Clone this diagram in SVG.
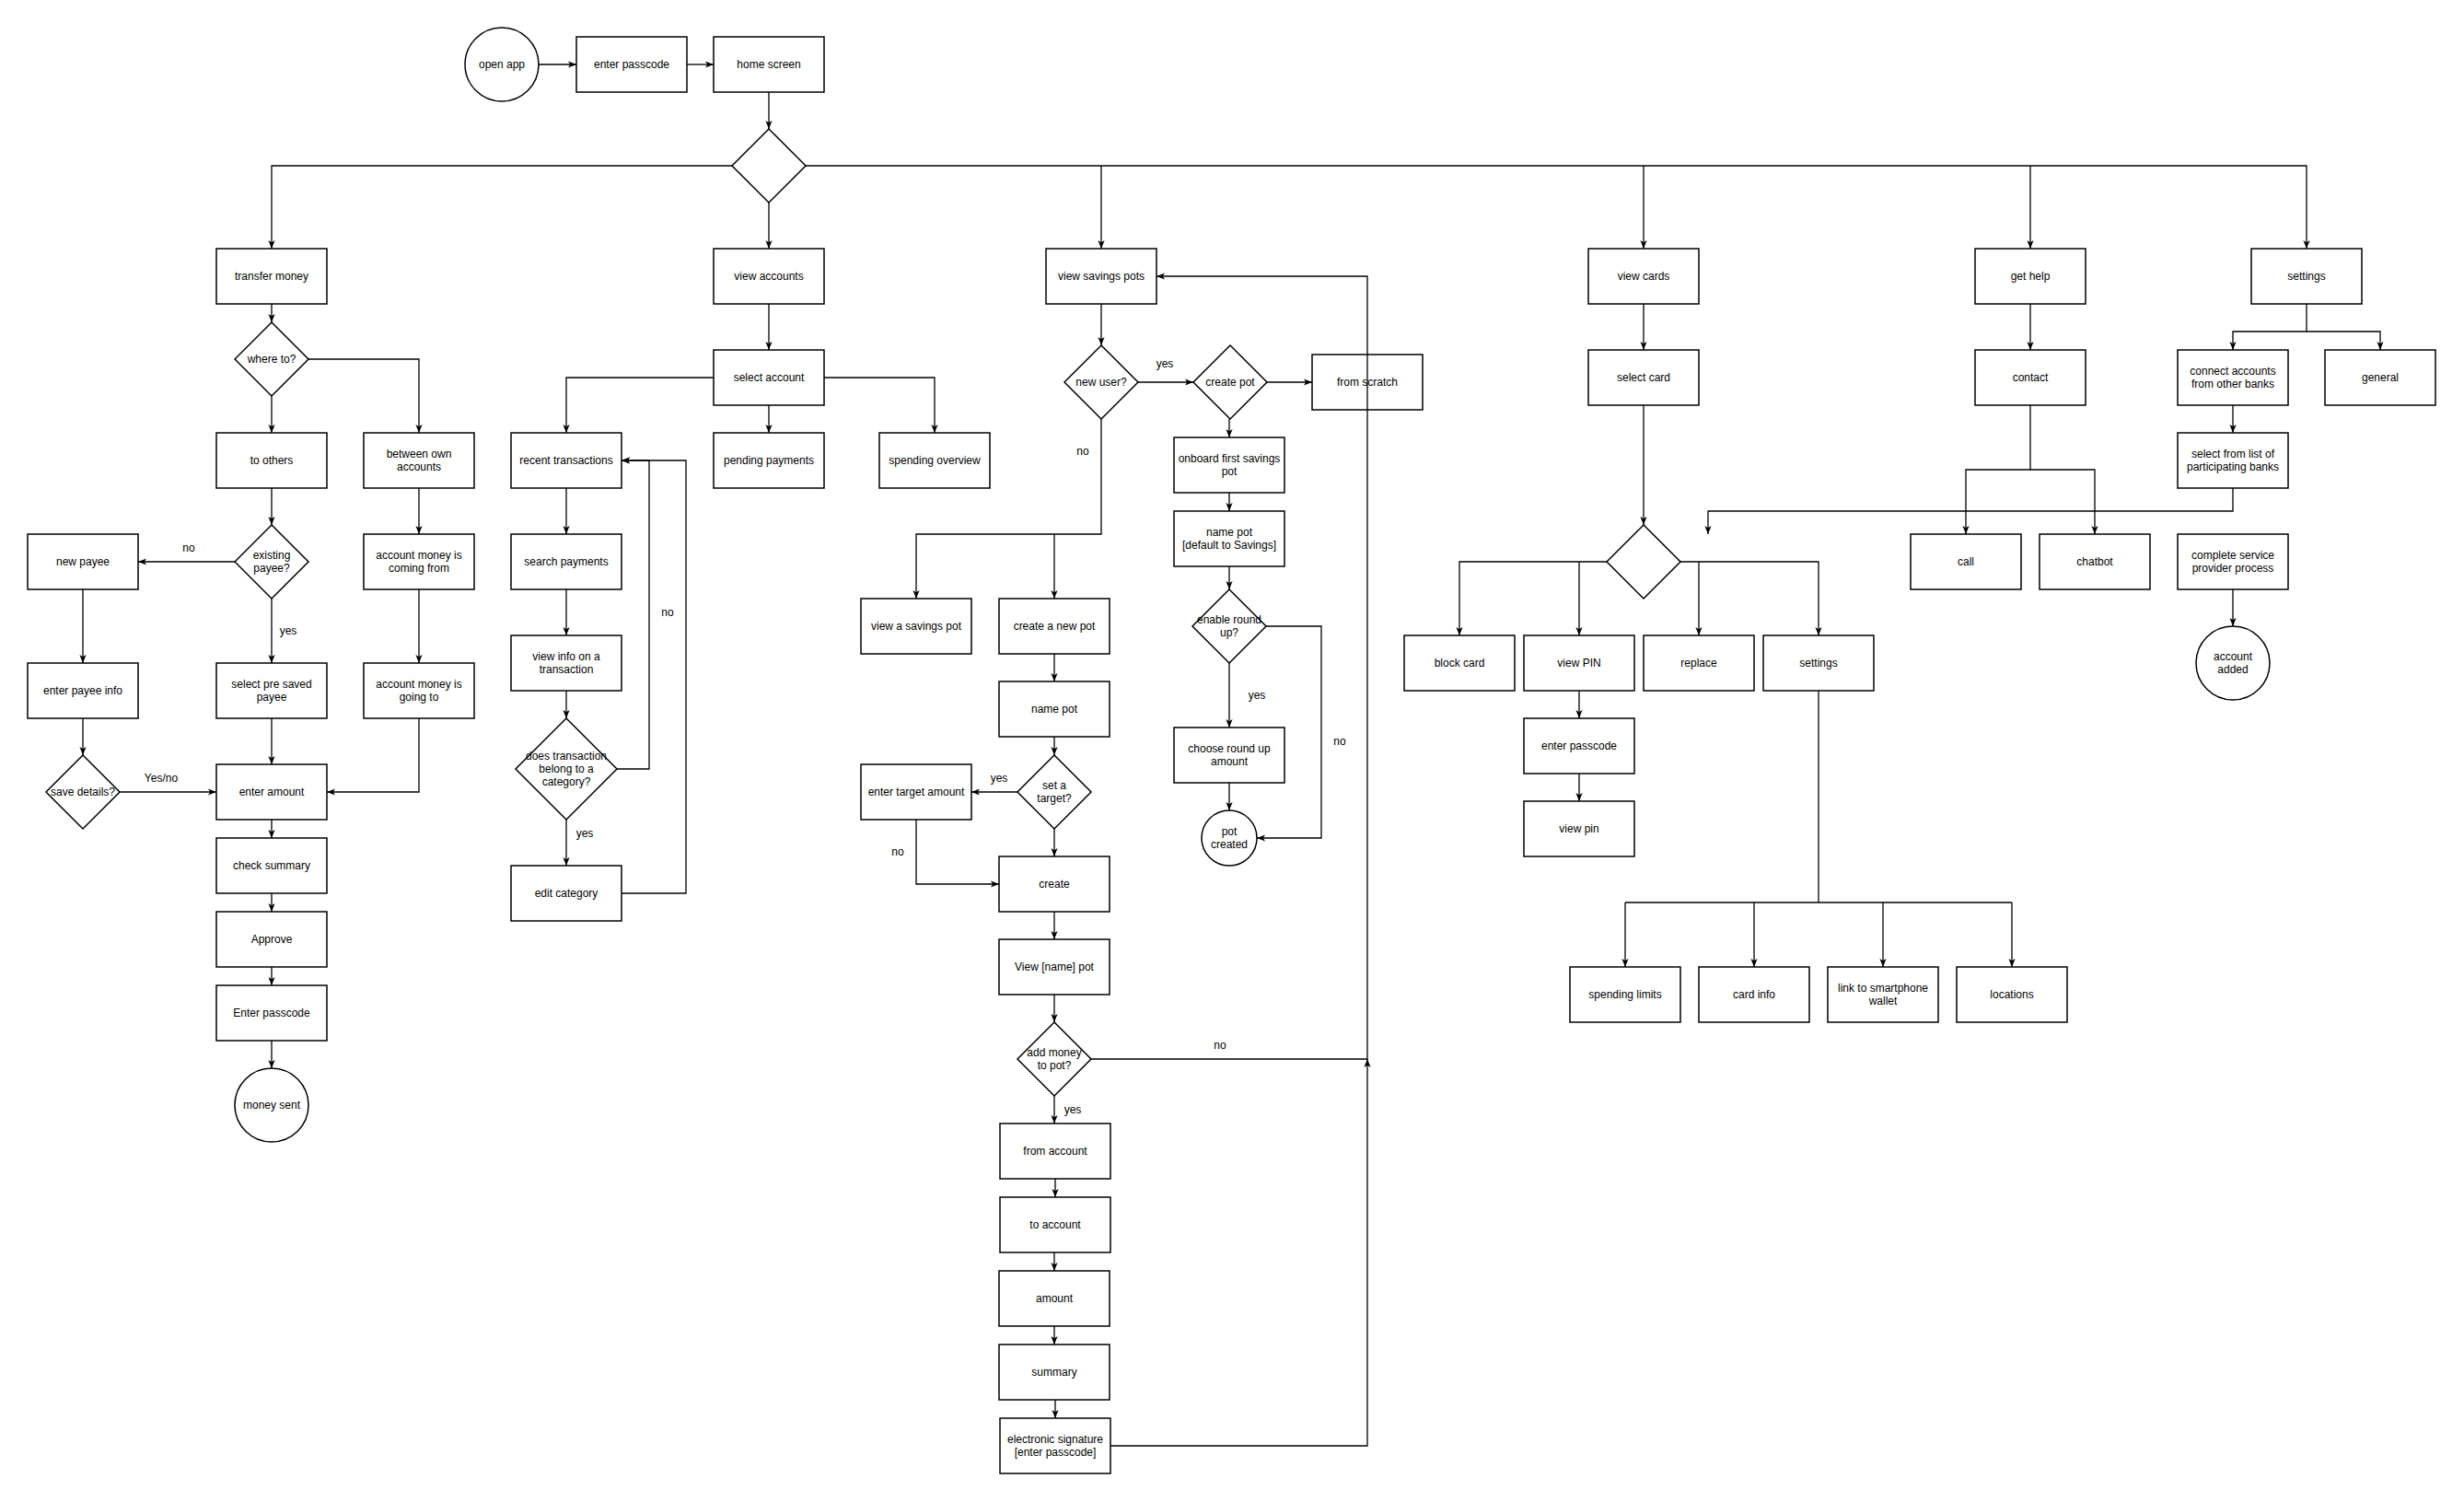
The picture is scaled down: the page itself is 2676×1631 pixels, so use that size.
<svg xmlns="http://www.w3.org/2000/svg" width="2676" height="1631" viewBox="0 0 2676 1631">
<defs>
<marker id="a" viewBox="0 0 10 8" refX="10" refY="4" markerWidth="9" markerHeight="7.5" orient="auto" markerUnits="userSpaceOnUse"><path d="M0,0 L10,4 L0,8 L2.5,4 z" fill="#000"/></marker>
<style>
.n rect,.n ellipse,.n polygon{fill:#fff;stroke:#000;stroke-width:1.5}
.n rect.open{fill:none}
.c path{fill:none;stroke:#000;stroke-width:1.3}
.c path.m{marker-end:url(#a)}
text{font-family:"Liberation Sans",Arial,Helvetica,sans-serif;font-size:12px;fill:#000;text-anchor:middle}
</style>
</defs>
<rect width="2676" height="1631" fill="#fff"/>
<g id="connectors" class="c">
<path class="m" d="M585,70H626"/>
<path class="m" d="M746,70H775"/>
<path class="m" d="M835,100V140"/>
<path class="m" d="M835,220V270"/>
<path class="m" d="M795,180H295V270"/>
<path class="m" d="M875,180H2505V270"/>
<path class="m" d="M1196,180V270"/>
<path class="m" d="M1785,180V270"/>
<path class="m" d="M2205,180V270"/>
<path class="m" d="M295,330V350"/>
<path class="m" d="M295,430V470"/>
<path class="m" d="M335,390H455V470"/>
<path class="m" d="M295,530V570"/>
<path class="m" d="M255,610H150"/>
<path class="m" d="M295,650V720"/>
<path class="m" d="M90,640V720"/>
<path class="m" d="M90,780V820"/>
<path class="m" d="M130,860H235"/>
<path class="m" d="M295,780V830"/>
<path class="m" d="M455,530V580"/>
<path class="m" d="M455,640V720"/>
<path class="m" d="M455,780V860H355"/>
<path class="m" d="M295,890V910"/>
<path class="m" d="M295,970V990"/>
<path class="m" d="M295,1050V1070"/>
<path class="m" d="M295,1130V1160"/>
<path class="m" d="M835,330V380"/>
<path class="m" d="M775,410H615V470"/>
<path class="m" d="M835,440V470"/>
<path class="m" d="M895,410H1015V470"/>
<path class="m" d="M615,530V580"/>
<path class="m" d="M615,640V690"/>
<path class="m" d="M615,750V780"/>
<path class="m" d="M670,835H705V500H675"/>
<path class="m" d="M615,890V940"/>
<path class="m" d="M675,970H745V500H675"/>
<path class="m" d="M1196,330V375"/>
<path class="m" d="M1236,415H1296"/>
<path class="m" d="M1376,415H1425"/>
<path class="m" d="M1335,455V475"/>
<path class="m" d="M1335,535V555"/>
<path class="m" d="M1335,615V640"/>
<path class="m" d="M1335,720V790"/>
<path class="m" d="M1375,680H1435V910H1365"/>
<path class="m" d="M1335,850V880"/>
<path class="m" d="M1196,455V580H995V650"/>
<path class="m" d="M1145,580V650"/>
<path class="m" d="M1145,710V740"/>
<path class="m" d="M1145,800V820"/>
<path class="m" d="M1105,860H1055"/>
<path class="m" d="M1145,900V930"/>
<path class="m" d="M995,890V960H1085"/>
<path class="m" d="M1145,990V1020"/>
<path class="m" d="M1145,1080V1110"/>
<path class="m" d="M1145,1190V1220"/>
<path class="m" d="M1185,1150H1485V300H1256"/>
<path class="m" d="M1146,1280V1300"/>
<path class="m" d="M1145,1360V1380"/>
<path class="m" d="M1145,1440V1460"/>
<path class="m" d="M1146,1520V1540"/>
<path class="m" d="M1206,1570H1485V1150"/>
<path class="m" d="M1785,330V380"/>
<path class="m" d="M1785,440V570"/>
<path class="m" d="M1745,610H1585V690"/>
<path class="m" d="M1715,610V690"/>
<path class="m" d="M1825,610H1975V690"/>
<path class="m" d="M1845,610V690"/>
<path class="m" d="M1715,750V780"/>
<path class="m" d="M1715,840V870"/>
<path d="M1975,750V980"/>
<path class="m" d="M1765,980V1050"/>
<path d="M1765,980H2185"/>
<path class="m" d="M1905,980V1050"/>
<path class="m" d="M2045,980V1050"/>
<path class="m" d="M2185,980V1050"/>
<path class="m" d="M2205,330V380"/>
<path class="m" d="M2205,440V510H2135V580"/>
<path class="m" d="M2205,510H2275V580"/>
<path class="m" d="M2505,330V360H2425V380"/>
<path class="m" d="M2505,360H2585V380"/>
<path class="m" d="M2425,440V470"/>
<path class="m" d="M2425,530V555H1855V580"/>
<path class="m" d="M2425,640V680"/>
</g>
<g id="edge-labels">
<text x="205" y="599">no</text>
<text x="313" y="689">yes</text>
<text x="175" y="849">Yes/no</text>
<text x="725" y="669">no</text>
<text x="635" y="909">yes</text>
<text x="1265" y="399">yes</text>
<text x="1176" y="494">no</text>
<text x="1365" y="759">yes</text>
<text x="1455" y="809">no</text>
<text x="1085" y="849">yes</text>
<text x="975" y="929">no</text>
<text x="1325" y="1139">no</text>
<text x="1165" y="1209">yes</text>
</g>
<g id="open-app" class="n"><ellipse cx="545" cy="70" rx="40" ry="40"/><text x="545" y="74">open app</text></g>
<g id="enter-passcode" class="n"><rect x="626" y="40" width="120" height="60"/><text x="686" y="74">enter passcode</text></g>
<g id="home-screen" class="n"><rect x="775" y="40" width="120" height="60"/><text x="835" y="74">home screen</text></g>
<g id="home-decision" class="n"><polygon points="835,140 875,180 835,220 795,180"/></g>
<g id="transfer-money" class="n"><rect x="235" y="270" width="120" height="60"/><text x="295" y="304">transfer money</text></g>
<g id="where-to" class="n"><polygon points="295,350 335,390 295,430 255,390"/><text x="295" y="394">where to?</text></g>
<g id="to-others" class="n"><rect x="235" y="470" width="120" height="60"/><text x="295" y="504">to others</text></g>
<g id="between-own" class="n"><rect x="395" y="470" width="120" height="60"/><text x="455" y="497">between own</text><text x="455" y="511">accounts</text></g>
<g id="existing-payee" class="n"><polygon points="295,570 335,610 295,650 255,610"/><text x="295" y="607">existing</text><text x="295" y="621">payee?</text></g>
<g id="new-payee" class="n"><rect x="30" y="580" width="120" height="60"/><text x="90" y="614">new payee</text></g>
<g id="enter-payee-info" class="n"><rect x="30" y="720" width="120" height="60"/><text x="90" y="754">enter payee info</text></g>
<g id="save-details" class="n"><polygon points="90,820 130,860 90,900 50,860"/><text x="90" y="864">save details?</text></g>
<g id="select-pre-saved" class="n"><rect x="235" y="720" width="120" height="60"/><text x="295" y="747">select pre saved</text><text x="295" y="761">payee</text></g>
<g id="coming-from" class="n"><rect x="395" y="580" width="120" height="60"/><text x="455" y="607">account money is</text><text x="455" y="621">coming from</text></g>
<g id="going-to" class="n"><rect x="395" y="720" width="120" height="60"/><text x="455" y="747">account money is</text><text x="455" y="761">going to</text></g>
<g id="enter-amount" class="n"><rect x="235" y="830" width="120" height="60"/><text x="295" y="864">enter amount</text></g>
<g id="check-summary" class="n"><rect x="235" y="910" width="120" height="60"/><text x="295" y="944">check summary</text></g>
<g id="approve" class="n"><rect x="235" y="990" width="120" height="60"/><text x="295" y="1024">Approve</text></g>
<g id="enter-passcode-2" class="n"><rect x="235" y="1070" width="120" height="60"/><text x="295" y="1104">Enter passcode</text></g>
<g id="money-sent" class="n"><ellipse cx="295" cy="1200" rx="40" ry="40"/><text x="295" y="1204">money sent</text></g>
<g id="view-accounts" class="n"><rect x="775" y="270" width="120" height="60"/><text x="835" y="304">view accounts</text></g>
<g id="select-account" class="n"><rect x="775" y="380" width="120" height="60"/><text x="835" y="414">select account</text></g>
<g id="recent-transactions" class="n"><rect x="555" y="470" width="120" height="60"/><text x="615" y="504">recent transactions</text></g>
<g id="pending-payments" class="n"><rect x="775" y="470" width="120" height="60"/><text x="835" y="504">pending payments</text></g>
<g id="spending-overview" class="n"><rect x="955" y="470" width="120" height="60"/><text x="1015" y="504">spending overview</text></g>
<g id="search-payments" class="n"><rect x="555" y="580" width="120" height="60"/><text x="615" y="614">search payments</text></g>
<g id="view-info" class="n"><rect x="555" y="690" width="120" height="60"/><text x="615" y="717">view info on a</text><text x="615" y="731">transaction</text></g>
<g id="belong-category" class="n"><polygon points="615,780 670,835 615,890 560,835"/><text x="615" y="825">does transaction</text><text x="615" y="839">belong to a</text><text x="615" y="853">category?</text></g>
<g id="edit-category" class="n"><rect x="555" y="940" width="120" height="60"/><text x="615" y="974">edit category</text></g>
<g id="view-savings-pots" class="n"><rect x="1136" y="270" width="120" height="60"/><text x="1196" y="304">view savings pots</text></g>
<g id="new-user" class="n"><polygon points="1196,375 1236,415 1196,455 1156,415"/><text x="1196" y="419">new user?</text></g>
<g id="create-pot" class="n"><polygon points="1336,375 1376,415 1336,455 1296,415"/><text x="1336" y="419">create pot</text></g>
<g id="from-scratch" class="n"><rect class="open" x="1425" y="385" width="120" height="60"/><text x="1485" y="419">from scratch</text></g>
<g id="onboard" class="n"><rect x="1275" y="475" width="120" height="60"/><text x="1335" y="502">onboard first savings</text><text x="1335" y="516">pot</text></g>
<g id="name-pot-default" class="n"><rect x="1275" y="555" width="120" height="60"/><text x="1335" y="582">name pot</text><text x="1335" y="596">[default to Savings]</text></g>
<g id="enable-round-up" class="n"><polygon points="1335,640 1375,680 1335,720 1295,680"/><text x="1335" y="677">enable round</text><text x="1335" y="691">up?</text></g>
<g id="choose-round-up" class="n"><rect x="1275" y="790" width="120" height="60"/><text x="1335" y="817">choose round up</text><text x="1335" y="831">amount</text></g>
<g id="pot-created" class="n"><ellipse cx="1335" cy="910" rx="30" ry="30"/><text x="1335" y="907">pot</text><text x="1335" y="921">created</text></g>
<g id="view-a-savings-pot" class="n"><rect x="935" y="650" width="120" height="60"/><text x="995" y="684">view a savings pot</text></g>
<g id="create-new-pot" class="n"><rect x="1085" y="650" width="120" height="60"/><text x="1145" y="684">create a new pot</text></g>
<g id="name-pot" class="n"><rect x="1085" y="740" width="120" height="60"/><text x="1145" y="774">name pot</text></g>
<g id="set-target" class="n"><polygon points="1145,820 1185,860 1145,900 1105,860"/><text x="1145" y="857">set a</text><text x="1145" y="871">target?</text></g>
<g id="enter-target" class="n"><rect x="935" y="830" width="120" height="60"/><text x="995" y="864">enter target amount</text></g>
<g id="create" class="n"><rect x="1085" y="930" width="120" height="60"/><text x="1145" y="964">create</text></g>
<g id="view-name-pot" class="n"><rect x="1085" y="1020" width="120" height="60"/><text x="1145" y="1054">View [name] pot</text></g>
<g id="add-money" class="n"><polygon points="1145,1110 1185,1150 1145,1190 1105,1150"/><text x="1145" y="1147">add money</text><text x="1145" y="1161">to pot?</text></g>
<g id="from-account" class="n"><rect x="1086" y="1220" width="120" height="60"/><text x="1146" y="1254">from account</text></g>
<g id="to-account" class="n"><rect x="1086" y="1300" width="120" height="60"/><text x="1146" y="1334">to account</text></g>
<g id="amount" class="n"><rect x="1085" y="1380" width="120" height="60"/><text x="1145" y="1414">amount</text></g>
<g id="summary" class="n"><rect x="1085" y="1460" width="120" height="60"/><text x="1145" y="1494">summary</text></g>
<g id="electronic-signature" class="n"><rect x="1086" y="1540" width="120" height="60"/><text x="1146" y="1567">electronic signature</text><text x="1146" y="1581">[enter passcode]</text></g>
<g id="view-cards" class="n"><rect x="1725" y="270" width="120" height="60"/><text x="1785" y="304">view cards</text></g>
<g id="select-card" class="n"><rect x="1725" y="380" width="120" height="60"/><text x="1785" y="414">select card</text></g>
<g id="card-decision" class="n"><polygon points="1785,570 1825,610 1785,650 1745,610"/></g>
<g id="block-card" class="n"><rect x="1525" y="690" width="120" height="60"/><text x="1585" y="724">block card</text></g>
<g id="view-pin-upper" class="n"><rect x="1655" y="690" width="120" height="60"/><text x="1715" y="724">view PIN</text></g>
<g id="replace" class="n"><rect x="1785" y="690" width="120" height="60"/><text x="1845" y="724">replace</text></g>
<g id="card-settings" class="n"><rect x="1915" y="690" width="120" height="60"/><text x="1975" y="724">settings</text></g>
<g id="card-enter-passcode" class="n"><rect x="1655" y="780" width="120" height="60"/><text x="1715" y="814">enter passcode</text></g>
<g id="view-pin" class="n"><rect x="1655" y="870" width="120" height="60"/><text x="1715" y="904">view pin</text></g>
<g id="spending-limits" class="n"><rect x="1705" y="1050" width="120" height="60"/><text x="1765" y="1084">spending limits</text></g>
<g id="card-info" class="n"><rect x="1845" y="1050" width="120" height="60"/><text x="1905" y="1084">card info</text></g>
<g id="smartphone-wallet" class="n"><rect x="1985" y="1050" width="120" height="60"/><text x="2045" y="1077">link to smartphone</text><text x="2045" y="1091">wallet</text></g>
<g id="locations" class="n"><rect x="2125" y="1050" width="120" height="60"/><text x="2185" y="1084">locations</text></g>
<g id="get-help" class="n"><rect x="2145" y="270" width="120" height="60"/><text x="2205" y="304">get help</text></g>
<g id="contact" class="n"><rect x="2145" y="380" width="120" height="60"/><text x="2205" y="414">contact</text></g>
<g id="call" class="n"><rect x="2075" y="580" width="120" height="60"/><text x="2135" y="614">call</text></g>
<g id="chatbot" class="n"><rect x="2215" y="580" width="120" height="60"/><text x="2275" y="614">chatbot</text></g>
<g id="settings" class="n"><rect x="2445" y="270" width="120" height="60"/><text x="2505" y="304">settings</text></g>
<g id="connect-accounts" class="n"><rect x="2365" y="380" width="120" height="60"/><text x="2425" y="407">connect accounts</text><text x="2425" y="421">from other banks</text></g>
<g id="general" class="n"><rect x="2525" y="380" width="120" height="60"/><text x="2585" y="414">general</text></g>
<g id="select-from-list" class="n"><rect x="2365" y="470" width="120" height="60"/><text x="2425" y="497">select from list of</text><text x="2425" y="511">participating banks</text></g>
<g id="complete-service" class="n"><rect x="2365" y="580" width="120" height="60"/><text x="2425" y="607">complete service</text><text x="2425" y="621">provider process</text></g>
<g id="account-added" class="n"><ellipse cx="2425" cy="720" rx="40" ry="40"/><text x="2425" y="717">account</text><text x="2425" y="731">added</text></g>
</svg>
